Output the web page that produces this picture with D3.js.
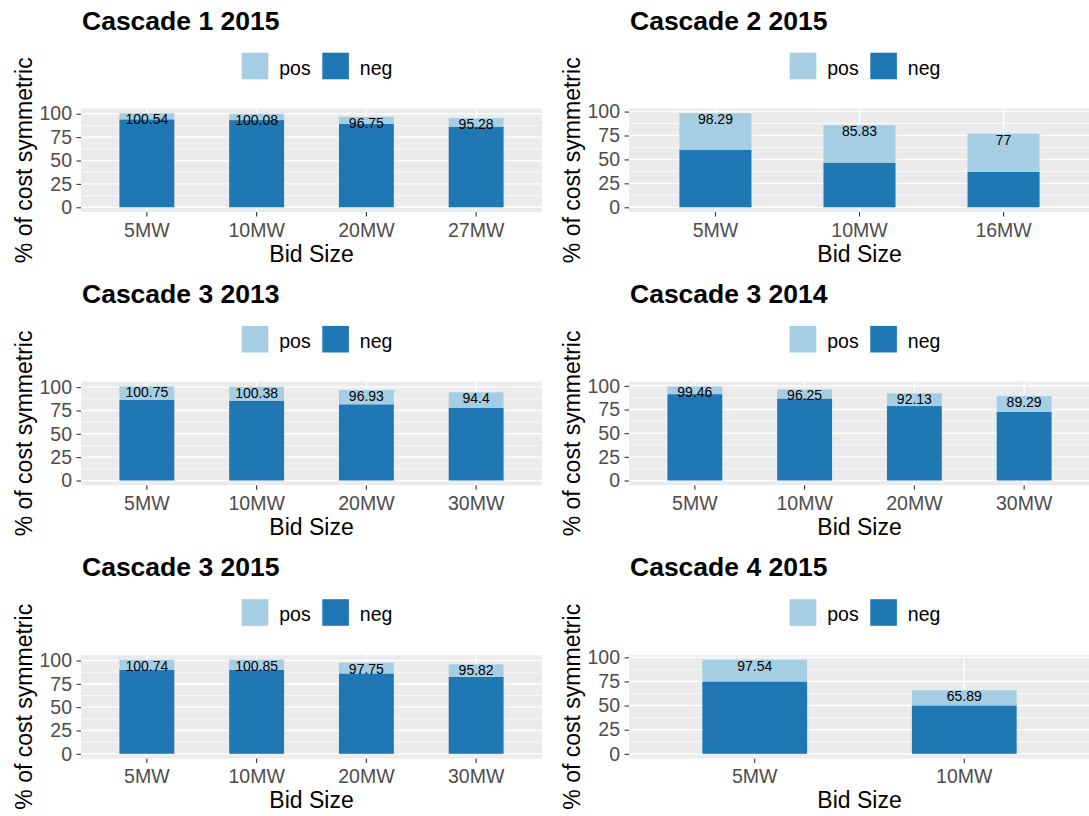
<!DOCTYPE html>
<html>
<head>
<meta charset="utf-8">
<script src="https://cdn.jsdelivr.net/npm/d3@7"></script>
<style>
  html, body { margin: 0; padding: 0; background: #ffffff; }
  svg { display: block; }
</style>
</head>
<body>
<svg id="chart" width="1089" height="816"></svg>
<script>
// ---------------- DATA ----------------
const panelTitles = ["Cascade 1 2015", "Cascade 2 2015", "Cascade 3 2013", "Cascade 3 2014", "Cascade 3 2015", "Cascade 4 2015"];
const seriesNames = ["pos", "neg"];
const yTicks = [0, 25, 50, 75, 100];
const yMinorTicks = [12.5, 37.5, 62.5, 87.5];

const c1_2015_cats = ["5MW", "10MW", "20MW", "27MW"];
const c1_2015_neg = [94.0, 93.2, 89.0, 86.1];
const c1_2015_total = [100.54, 100.08, 96.75, 95.28];

const c2_2015_cats = ["5MW", "10MW", "16MW"];
const c2_2015_neg = [60.2, 46.7, 37.0];
const c2_2015_total = [98.29, 85.83, 77];

const c3_2013_cats = ["5MW", "10MW", "20MW", "30MW"];
const c3_2013_neg = [86.2, 85.5, 81.6, 78.0];
const c3_2013_total = [100.75, 100.38, 96.93, 94.4];

const c3_2014_cats = ["5MW", "10MW", "20MW", "30MW"];
const c3_2014_neg = [91.3, 86.7, 78.7, 72.4];
const c3_2014_total = [99.46, 96.25, 92.13, 89.29];

const c3_2015_cats = ["5MW", "10MW", "20MW", "30MW"];
const c3_2015_neg = [89.8, 90.0, 86.1, 82.5];
const c3_2015_total = [100.74, 100.85, 97.75, 95.82];

const c4_2015_cats = ["5MW", "10MW"];
const c4_2015_neg = [75.0, 50.2];
const c4_2015_total = [97.54, 65.89];

const panelCats = [c1_2015_cats, c2_2015_cats, c3_2013_cats, c3_2014_cats, c3_2015_cats, c4_2015_cats];
const panelNeg = [c1_2015_neg, c2_2015_neg, c3_2013_neg, c3_2014_neg, c3_2015_neg, c4_2015_neg];
const panelTotal = [c1_2015_total, c2_2015_total, c3_2013_total, c3_2014_total, c3_2015_total, c4_2015_total];

// ---------------- STYLE ----------------
const colors = { pos: "#A6CEE3", neg: "#1F78B4" };
const FONT = "'Liberation Sans', Arial, Helvetica, sans-serif";
const colOffsets = [0, 548];
const rowOffsets = [0, 273.2, 546.5];

const svg = d3.select("#chart");
svg.append("rect").attr("width", 1089).attr("height", 816).attr("fill", "#ffffff");

panelTitles.forEach((title, i) => {
  const ox = colOffsets[i % 2];
  const oy = rowOffsets[Math.floor(i / 2)];
  const cats = panelCats[i], neg = panelNeg[i], total = panelTotal[i];
  const data = cats.map((c, j) => ({ cat: c, neg: neg[j], total: total[j] }));

  const gx0 = ox + 81, gx1 = ox + 542;
  const gy0 = oy + 108.5, gy1 = oy + 212;
  const maxV = d3.max(total);

  const x = d3.scaleBand().domain(cats).range([gx0, gx1]).paddingInner(0.5).paddingOuter(0.35);
  const y = d3.scaleLinear().domain([-0.05 * maxV, 1.05 * maxV]).range([gy1, gy0]);

  const g = svg.append("g");

  // clip to visible area
  // panel background
  g.append("rect").attr("x", gx0).attr("y", gy0)
    .attr("width", gx1 - gx0).attr("height", gy1 - gy0).attr("fill", "#EBEBEB");

  // minor grid
  g.selectAll(".minor").data(yMinorTicks).enter().append("line")
    .attr("x1", gx0).attr("x2", gx1)
    .attr("y1", d => y(d)).attr("y2", d => y(d))
    .attr("stroke", "#ffffff").attr("stroke-width", 0.7);
  // major grid
  g.selectAll(".majorY").data(yTicks).enter().append("line")
    .attr("x1", gx0).attr("x2", gx1)
    .attr("y1", d => y(d)).attr("y2", d => y(d))
    .attr("stroke", "#ffffff").attr("stroke-width", 1.4);
  g.selectAll(".majorX").data(cats).enter().append("line")
    .attr("x1", d => x(d) + x.bandwidth() / 2).attr("x2", d => x(d) + x.bandwidth() / 2)
    .attr("y1", gy0).attr("y2", gy1)
    .attr("stroke", "#ffffff").attr("stroke-width", 1.4);

  // bars: neg at bottom, pos stacked on top
  g.selectAll(".neg").data(data).enter().append("rect")
    .attr("x", d => x(d.cat)).attr("width", x.bandwidth())
    .attr("y", d => y(d.neg)).attr("height", d => y(0) - y(d.neg))
    .attr("fill", colors.neg);
  g.selectAll(".pos").data(data).enter().append("rect")
    .attr("x", d => x(d.cat)).attr("width", x.bandwidth())
    .attr("y", d => y(d.total)).attr("height", d => y(d.neg) - y(d.total))
    .attr("fill", colors.pos);

  // value labels
  g.selectAll(".lbl").data(data).enter().append("text")
    .attr("x", d => x(d.cat) + x.bandwidth() / 2)
    .attr("y", d => y(d.total) + 11)
    .attr("text-anchor", "middle")
    .attr("font-family", FONT).attr("font-size", "14px").attr("fill", "#000000")
    .text(d => d.total);

  // y axis
  const ya = g.append("g").attr("transform", `translate(${gx0},0)`)
    .call(d3.axisLeft(y).tickValues(yTicks).tickSize(4.5).tickPadding(4.5));
  ya.select(".domain").remove();
  ya.selectAll(".tick line").attr("stroke", "#333333").attr("stroke-width", 1.1);
  ya.selectAll(".tick text").attr("font-family", FONT).attr("font-size", "19.5px").attr("fill", "#4D4D4D");

  // x axis
  const xa = g.append("g").attr("transform", `translate(0,${gy1})`)
    .call(d3.axisBottom(x).tickSize(4.5).tickPadding(6.2));
  xa.select(".domain").remove();
  xa.selectAll(".tick line").attr("stroke", "#333333").attr("stroke-width", 1.1);
  xa.selectAll(".tick text").attr("font-family", FONT).attr("font-size", "19.5px").attr("fill", "#4D4D4D");

  // axis titles
  g.append("text").attr("x", (gx0 + gx1) / 2).attr("y", oy + 261.7)
    .attr("text-anchor", "middle").attr("font-family", FONT).attr("font-size", "23px").attr("fill", "#000000")
    .text("Bid Size");
  g.append("text")
    .attr("transform", `translate(${ox + 31.5},${(gy0 + gy1) / 2}) rotate(-90)`)
    .attr("text-anchor", "middle").attr("font-family", FONT).attr("font-size", "23px").attr("fill", "#000000")
    .text("% of cost symmetric");

  // title
  g.append("text").attr("x", ox + 82).attr("y", oy + 29.5)
    .attr("font-family", FONT).attr("font-size", "26.5px").attr("font-weight", "bold").attr("fill", "#000000")
    .text(title);

  // legend
  const lg = g.append("g");
  const keyX = [ox + 241.7, ox + 322.3];
  seriesNames.forEach((s, k) => {
    lg.append("rect").attr("x", keyX[k]).attr("y", oy + 52.7)
      .attr("width", 26.6).attr("height", 26.6).attr("fill", colors[s]);
    lg.append("text").attr("x", keyX[k] + 37.5).attr("y", oy + 74.5)
      .attr("font-family", FONT).attr("font-size", "19.5px").attr("fill", "#000000")
      .text(s);
  });
});
</script>
</body>
</html>
